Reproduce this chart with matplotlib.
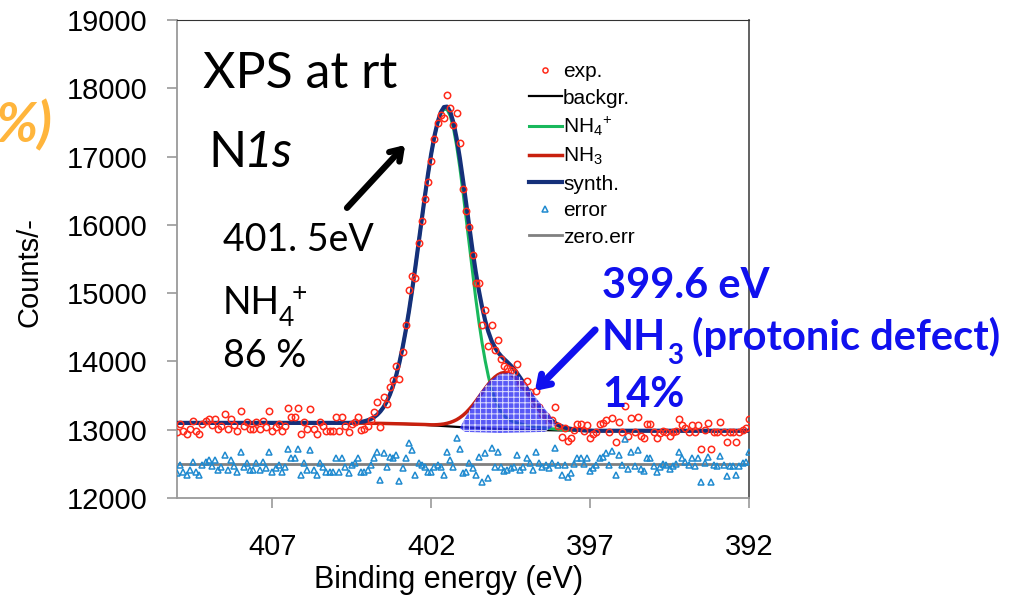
import numpy as np
import matplotlib
matplotlib.use('Agg')
import matplotlib.pyplot as plt

plt.rcParams['font.family'] = ['Liberation Sans', 'DejaVu Sans']
plt.rcParams['mathtext.fontset'] = 'custom'
plt.rcParams['mathtext.rm'] = 'Liberation Sans'
plt.rcParams['mathtext.it'] = 'Liberation Sans:italic'
plt.rcParams['mathtext.default'] = 'regular'
plt.rcParams['hatch.linewidth'] = 0.7

# binding energy grid of the spectrum, 0.1 eV steps from 410 down to 392
energy = np.round(np.arange(410.0, 391.95, -0.1), 1)

# background (Shirley), 404.5 .. 397.0 eV
bg_left = 13100      # 410.0 .. 404.6
bg_right = 12985     # 396.9 .. 392.0
bg_mid = [13097, 13097, 13096, 13096, 13095, 13095, 13094, 13094, 13093, 13093,
          13092, 13091, 13090, 13089, 13088, 13087, 13085, 13084, 13082, 13080,
          13078, 13076, 13073, 13071, 13068, 13065, 13062, 13059, 13056, 13053,
          13050, 13047, 13044, 13041, 13038, 13035, 13032, 13030, 13027, 13025,
          13022, 13020, 13018, 13016, 13014, 13012, 13010, 13009, 13007, 13006,
          13004, 13003, 13001, 13000, 12999, 12998, 12997, 12996, 12995, 12994,
          12993, 12992, 12992, 12991, 12991, 12990, 12990, 12989, 12989, 12989,
          12988, 12988, 12988, 12988, 12987, 12987]

# NH4+ component above background, 404.5 .. 397.0 eV
nh4_mid = [5, 8, 13, 19, 29, 43, 62, 89, 126, 175,
           238, 321, 425, 554, 711, 899, 1120, 1372, 1655, 1966,
           2298, 2645, 2997, 3343, 3672, 3970, 4225, 4428, 4569, 4641,
           4638, 4547, 4371, 4118, 3804, 3445, 3058, 2662, 2271, 1900,
           1558, 1253, 987, 763, 578, 440, 330, 250, 195, 158,
           132, 113, 98, 86, 76, 67, 59, 52, 46, 40,
           35, 30, 26, 22, 18, 15, 12, 9, 7, 5,
           4, 2, 1, 0, 0, 0]

# NH3 component above background, 404.5 .. 397.0 eV
nh3_mid = [0, 0, 0, 0, 0, 0, 0, 0, 0, 0,
           0, 0, 0, 0, 0, 0, 0, 0, 1, 1,
           2, 3, 4, 5, 6, 7, 10, 15, 22, 31,
           44, 60, 81, 106, 138, 176, 221, 272, 329, 391,
           457, 524, 590, 653, 710, 758, 795, 819, 830, 825,
           806, 774, 730, 676, 616, 550, 483, 417, 353, 294,
           241, 193, 153, 118, 90, 67, 50, 36, 25, 18,
           12, 8, 5, 3, 2, 1]

# residual exp - synth (error triangles around zero.err), 410.0 .. 392.0 eV
residual = [-137, -15, -112, -161, -88, 34, -112, -161, -15, 34,
            58, -25, 58, -88, -39, 132, -88, 58, -25, -112,
            171, -39, 10, -88, -88, 10, -88, 34, -64, 171,
            -112, -64, -15, -112, -39, 220, 83, 83, 220, -161, 10,
            -88, 205, -88, -161, 10, -39, -112, -112, -112, 83,
            -112, 83, -39, -137, -15, 10, 83, -112, -112, -88,
            -15, 83, 180, -234, 156, -39, 107, 83, 132, -249,
            -64, 83, 302, 205, -161, 10, -15, -39, -112,
            -112, -39, -15, -39, -161, 171, 58, -39, 376, 220,
            -137, -112, 10, -64, -161, 107, -259, 156, -200, 229,
            -39, 180, -39, -103, -88, -64, -39, 132, -88, -39,
            93, 10, -88, 180, 10, -39, -15, -64, 10, 239, -15,
            -161, -15, -186, -137, -5, 83, 83, -5, 83, -103,
            -54, -15, 93, 107, 156, -15, 190, -161, 132, -15,
            366, -73, 180, -25, 205, -73, -103, 93, 93, -25,
            -112, -39, -5, -15, -73, -25, -5, 171, 83, 34,
            -15, 83, -25, 83, -269, 10, 107, -269, -15, -25,
            122, -15, -171, -25, -25, -161, -25, 10, 34, 171]

zero_err = 12500

# hand drawn hatched area marking the NH3 peak
blob_e = [401.10, 400.79, 400.47, 400.16, 399.84, 399.53, 399.21, 398.90,
          398.58, 398.27, 398.08, 398.43, 399.84, 400.94]
blob_c = [13027, 13290, 13539, 13714, 13817, 13832, 13773, 13583,
          13393, 13217, 13071, 12968, 12953, 12968]

xticks = [407, 402, 397, 392]
yticks = [12000, 13000, 14000, 15000, 16000, 17000, 18000, 19000]

legend_labels = ['exp.', 'backgr.', r'NH$_4$$^{+}$', r'NH$_3$', 'synth.', 'error', 'zero.err']

bg = np.concatenate([np.full(55, bg_left), bg_mid, np.full(50, bg_right)])
nh4 = np.concatenate([np.zeros(55), nh4_mid, np.zeros(50)])
nh3 = np.concatenate([np.zeros(55), nh3_mid, np.zeros(50)])
synth = bg + nh4 + nh3
exp_counts = synth + np.array(residual)
err = zero_err + np.array(residual)

W, H = 1028, 597
fig = plt.figure(figsize=(W / 100, H / 100), dpi=100)
ax = fig.add_axes([177 / W, 1 - 498 / H, (749 - 177) / W, (498 - 20) / H])

h_bg, = ax.plot(energy, bg, color='black', lw=1.6, zorder=2)
h_nh4, = ax.plot(energy, bg + nh4, color='#19b85c', lw=2.2, zorder=3)
h_nh3, = ax.plot(energy, bg + nh3, color='#c8200e', lw=2.5, zorder=4)
h_syn, = ax.plot(energy, synth, color='#15307a', lw=3, zorder=5)
h_zero, = ax.plot(energy, np.full(len(energy), zero_err), color='#808080', lw=2, zorder=2)
h_exp, = ax.plot(energy, exp_counts, ls='none', marker='o', ms=4.6, mfc='none',
                 mec='#ff2a1a', mew=1.1, zorder=6)
h_err, = ax.plot(energy, err, ls='none', marker='^', ms=4.6, mfc='none',
                 mec='#1f8ad0', mew=1.1, zorder=6)

ax.fill(blob_e, blob_c, facecolor='#3030f4', edgecolor='white', hatch='+++',
        lw=0, alpha=0.8, zorder=7)

ax.set_xlim(410, 392)
ax.set_ylim(12000, 19000)
ax.set_xticks(xticks)
ax.set_yticks(yticks)
ax.tick_params(axis='both', direction='out', length=7.2, width=1.2,
               color='#9a9a9a', labelsize=21)
ax.tick_params(axis='y', pad=14)
ax.tick_params(axis='x', pad=18)
for s in ['left', 'bottom']:
    ax.spines[s].set_color('#9a9a9a')
    ax.spines[s].set_linewidth(1.3)
ax.spines['top'].set_color('#333333')
ax.spines['right'].set_color('#555555')
ax.spines['right'].set_linewidth(1.3)

ax.set_xlabel('Binding energy (eV)', fontsize=22)
ax.xaxis.set_label_coords(0.474, -0.14)
ax.set_ylabel('Counts/-', fontsize=21)
ax.yaxis.set_label_coords(-0.234, 0.473)

leg = ax.legend([h_exp, h_bg, h_nh4, h_nh3, h_syn, h_err, h_zero], legend_labels,
                loc='upper left', bbox_to_anchor=(0.615, 0.912), frameon=False,
                fontsize=15, handlelength=1.6, handletextpad=0.05,
                labelspacing=0.36, borderpad=0, borderaxespad=0, numpoints=1,
                markerscale=0.8)

# arrows pointing at the two peaks
ax.annotate('', xy=(402.76, 17199), xytext=(404.71, 16219),
            arrowprops=dict(arrowstyle='->,head_length=0.75,head_width=0.5',
                            lw=4.5, color='black'), zorder=8)
ax.annotate('', xy=(398.80, 13539), xytext=(396.78, 14491),
            arrowprops=dict(arrowstyle='->,head_length=0.75,head_width=0.5',
                            lw=5, color='#1010ee'), zorder=8)


def ftext(x, y, s, **kw):
    fig.text(x / W, 1 - y / H, s, va='baseline', **kw)


note = dict(family=['Lato', 'DejaVu Sans'], color='black')
ftext(203, 88, 'XPS at rt', fontsize=36, **note)
ftext(208, 167, 'N', fontsize=36, **note)
ftext(244, 167, '1s', fontsize=36, style='italic', **note)
ftext(223, 251, '401. 5eV', fontsize=27, **note)
ftext(223, 314, 'NH', fontsize=27, **note)
ftext(279, 326, '4', fontsize=19, **note)
ftext(292, 301, '+', fontsize=19, **note)
ftext(223, 367, '86 %', fontsize=27, **note)

blue = dict(family=['Lato', 'DejaVu Sans'], color='#1010ee', weight='bold')
ftext(602, 298, '399.6 eV', fontsize=30, **blue)
ftext(602, 350, 'NH', fontsize=30, **blue)
ftext(667, 364, '3', fontsize=20, **blue)
ftext(692, 350, '(protonic defect)', fontsize=30, **blue)
ftext(602, 407, '14%', fontsize=30, **blue)

ftext(52, 142, '%)', fontsize=40, ha='right', style='italic', weight='bold',
      color='#ffb53c', family=['Lato', 'DejaVu Sans'])

fig.savefig('out.png', dpi=100)
